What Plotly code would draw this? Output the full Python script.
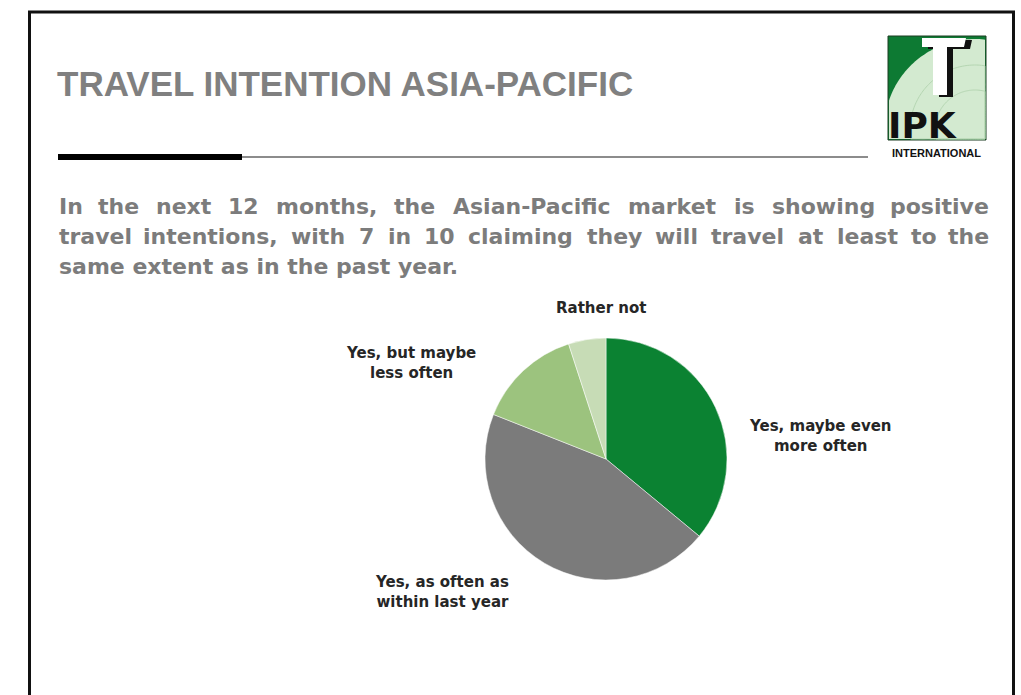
import numpy as np
import plotly.graph_objects as go

# ---- data -------------------------------------------------------------
answers = [
    "Yes, maybe even more often",
    "Yes, as often as within last year",
    "Yes, but maybe less often",
    "Rather not",
]
shares = [36, 45, 14, 5]
slice_colors = ["#0b8232", "#7b7b7b", "#9cc37e", "#c7dcb6"]

title_text = "TRAVEL INTENTION ASIA-PACIFIC"
body_lines = [
    "In the next 12 months, the Asian-Pacific market is showing positive",
    "travel intentions, with 7 in 10 claiming they will travel at least to the",
    "same extent as in the past year.",
]

# ---- page geometry (pixels -> paper) ----------------------------------
W, H = 1021, 695


def X(px):
    return px / W


def Y(py):
    return 1 - py / H


fig = go.Figure()

# pie centred at (606, 459) with radius ~121 px
fig.add_trace(go.Pie(
    labels=answers,
    values=shares,
    sort=False,
    direction="clockwise",
    rotation=0,
    marker=dict(colors=slice_colors, line=dict(color="white", width=0.5)),
    textinfo="none",
    hoverinfo="label+percent",
    showlegend=False,
    domain=dict(x=[X(485), X(727)], y=[Y(580), Y(338)]),
))

shapes = []
annotations = []

# outer slide frame
shapes.append(dict(type="rect", xref="paper", yref="paper",
                   x0=X(29.5), x1=X(1013.5), y0=Y(712), y1=Y(12),
                   line=dict(color="#111111", width=3), fillcolor="rgba(0,0,0,0)"))

# rule under the title: thick black segment + thin grey line
shapes.append(dict(type="line", xref="paper", yref="paper",
                   x0=X(242), x1=X(868), y0=Y(157), y1=Y(157),
                   line=dict(color="#8c8c8c", width=2)))
shapes.append(dict(type="line", xref="paper", yref="paper",
                   x0=X(58), x1=X(242), y0=Y(157), y1=Y(157),
                   line=dict(color="#000000", width=6)))

# ---- logo -------------------------------------------------------------
bx0, bx1, by0, by1 = 888, 986, 36, 140
shapes.append(dict(type="rect", xref="paper", yref="paper",
                   x0=X(bx0), x1=X(bx1), y0=Y(by1), y1=Y(by0),
                   fillcolor="#0d7a33", line=dict(color="#1d3d22", width=1)))

# light globe: circle clipped to the logo box
cx, cy, r = 975, 130, 91
t = np.linspace(0, 2 * np.pi, 240)
gx = np.clip(cx + r * np.cos(t), bx0 + 1, bx1 - 1)
gy = np.clip(cy + r * np.sin(t), by0 + 1, by1 - 1)
path = "M " + " L ".join(f"{X(a):.5f},{Y(b):.5f}" for a, b in zip(gx, gy)) + " Z"
shapes.append(dict(type="path", xref="paper", yref="paper", path=path,
                   fillcolor="#d3ead0", line=dict(width=0)))
# faint meridians / parallels on the globe
for rr in (40, 65):
    gx = np.clip(cx + rr * np.cos(t), bx0 + 1, bx1 - 1)
    gy = np.clip(cy + rr * np.sin(t), by0 + 1, by1 - 1)
    p = "M " + " L ".join(f"{X(a):.5f},{Y(b):.5f}" for a, b in zip(gx, gy))
    shapes.append(dict(type="path", xref="paper", yref="paper", path=p,
                       line=dict(color="#b5d6b2", width=1)))


# the "T" emblem: black drop shadow under a white T
def t_path(dx, dy):
    pts = [(922, 38), (966, 38), (964, 47), (947, 47), (947, 95),
           (933, 95), (933, 47), (922, 47)]
    return "M " + " L ".join(f"{X(a + dx):.5f},{Y(b + dy):.5f}" for a, b in pts) + " Z"


shapes.append(dict(type="path", xref="paper", yref="paper", path=t_path(6, 2),
                   fillcolor="#111111", line=dict(width=0)))
shapes.append(dict(type="path", xref="paper", yref="paper", path=t_path(0, 0),
                   fillcolor="#ffffff", line=dict(width=0)))

annotations.append(dict(text="<b>IPK</b>", x=X(886), y=Y(125), xref="paper", yref="paper",
                        xanchor="left", yanchor="middle", showarrow=False,
                        font=dict(family="DejaVu Sans", size=36, color="#111111")))
annotations.append(dict(text="<b>INTERNATIONAL</b>", x=X(936), y=Y(153), xref="paper",
                        yref="paper", xanchor="center", yanchor="middle", showarrow=False,
                        font=dict(family="Liberation Sans", size=11, color="#111111")))

# ---- title ------------------------------------------------------------
annotations.append(dict(text=f"<b>{title_text}</b>", x=X(55), y=Y(83), xref="paper",
                        yref="paper", xanchor="left", yanchor="middle", showarrow=False,
                        font=dict(family="Liberation Sans", size=35, color="#808080")))

# ---- body paragraph (justified lines placed word by word) -------------
body_font = dict(family="DejaVu Sans", size=22, color="#7c7c7c")
em = {  # DejaVu Sans Bold advance widths (em)
    " ": .348, ",": .381, "-": .416, ".": .381,
    "A": .774, "I": .372, "P": .733,
    "a": .675, "b": .716, "c": .595, "d": .716, "e": .678, "f": .435, "g": .716,
    "h": .712, "i": .343, "k": .665, "l": .343, "m": 1.042, "n": .712, "o": .687,
    "p": .716, "r": .493, "s": .595, "t": .478, "u": .712, "v": .652, "w": .921,
    "x": .633, "y": .652,
}


def word_px(w):
    return sum(em.get(ch, .696) for ch in w) * body_font["size"]


left, right = 57, 991
line_y = [206, 236, 266]
for i, line in enumerate(body_lines):
    if i < len(body_lines) - 1:
        words = line.split(" ")
        widths = [word_px(w) for w in words]
        gap = (right - left - sum(widths)) / (len(words) - 1)
        xpos = left
        for j, (w, wd) in enumerate(zip(words, widths)):
            if j == 0:
                xa, xx = "left", xpos
            elif j == len(words) - 1:
                xa, xx = "right", right
            else:
                xa, xx = "center", xpos + wd / 2
            annotations.append(dict(text=f"<b>{w}</b>", x=X(xx), y=Y(line_y[i]),
                                    xref="paper", yref="paper", xanchor=xa,
                                    yanchor="middle", showarrow=False, font=body_font))
            xpos += wd + gap
    else:
        annotations.append(dict(text=f"<b>{line}</b>", x=X(left), y=Y(line_y[i]),
                                xref="paper", yref="paper", xanchor="left",
                                yanchor="middle", showarrow=False, font=body_font))

# ---- slice labels -----------------------------------------------------
label_pos = {
    "Yes, maybe even more often": (820, 436, "Yes, maybe even<br>more often"),
    "Yes, as often as within last year": (442, 592, "Yes, as often as<br>within last year"),
    "Yes, but maybe less often": (411, 363, "Yes, but maybe<br>less often"),
    "Rather not": (601, 308, "Rather not"),
}
for name in answers:
    lx, ly, txt = label_pos[name]
    annotations.append(dict(text=f"<b>{txt}</b>", x=X(lx), y=Y(ly), xref="paper",
                            yref="paper", xanchor="center", yanchor="middle",
                            showarrow=False, align="center",
                            font=dict(family="DejaVu Sans", size=15, color="#262626")))

fig.update_layout(
    width=W, height=H,
    margin=dict(l=0, r=0, t=0, b=0),
    paper_bgcolor="white", plot_bgcolor="white",
    shapes=shapes, annotations=annotations,
    showlegend=False,
)

fig.write_html("out.html")
